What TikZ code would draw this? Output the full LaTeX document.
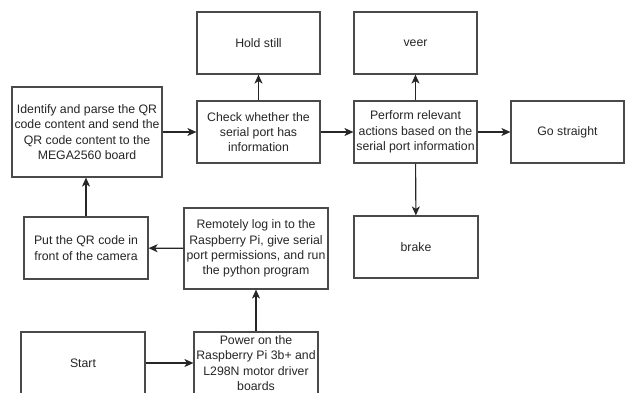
\documentclass[tikz,border=0pt]{standalone}
\usepackage{fontspec}
\setmainfont{Liberation Sans}
\usetikzlibrary{arrows.meta}
\definecolor{edge}{HTML}{4A4A4A}
\definecolor{ink}{HTML}{262626}
\tikzset{
  stepbox/.style={draw=edge, line width=1.2pt, fill=white, align=center,
    inner sep=2pt, font=\fontsize{12.3}{15.3}\selectfont, text=ink},
  flow/.style={draw=black!85, line width=1.1pt,
    -{Stealth[length=9pt,width=8pt,inset=2.5pt]}},
}
\newcommand{\boxat}[5]{%
  \node[stepbox, minimum width=#3pt, minimum height=#4pt] (#1) at (#2) {#5};}
\begin{document}
\begin{tikzpicture}[x=1pt, y=-1pt]
\useasboundingbox (0,0) rectangle (625,392);
\clip (0,0) rectangle (625,392);
\fill[white] (0,0) rectangle (625,392);
% process boxes (name, centre, width, height, text)
\boxat{hold}{258.5,43}{123}{62}{Hold still}
\boxat{ident}{87,132}{150}{90}{Identify and parse the QR\\code content and send the\\QR code content to the\\MEGA2560 board}
\boxat{check}{258.5,132}{123}{62}{Check whether the\\serial port has\\information}
\boxat{veer}{415.5,43}{123}{62}{veer}
\boxat{perf}{415.5,132}{123}{62}{Perform relevant\\actions based on the\\serial port information}
\boxat{go}{567.5,132}{113}{62}{Go straight}
\boxat{brake}{416,247}{124}{62}{brake}
\boxat{putqr}{86,248}{124}{62}{Put the QR code in\\front of the camera}
\boxat{remote}{256,248.5}{144}{81}{Remotely log in to the\\Raspberry Pi, give serial\\port permissions, and run\\the python program}
\boxat{start}{83,363}{124}{62}{Start}
\boxat{power}{256,363}{124}{62}{Power on the\\Raspberry Pi 3b+ and\\L298N motor driver\\boards}
% connectors
\draw[flow] (start) -- (power);
\draw[flow] (power) -- (remote);
\draw[flow] (remote) -- (putqr);
\draw[flow] (putqr.north) -- (putqr.north |- ident.south);
\draw[flow] (ident) -- (check);
\draw[flow] (check) -- (hold);
\draw[flow] (check) -- (perf);
\draw[flow] (perf) -- (veer);
\draw[flow] (perf) -- (go);
\draw[flow] (perf) -- (brake);
\end{tikzpicture}
\end{document}
